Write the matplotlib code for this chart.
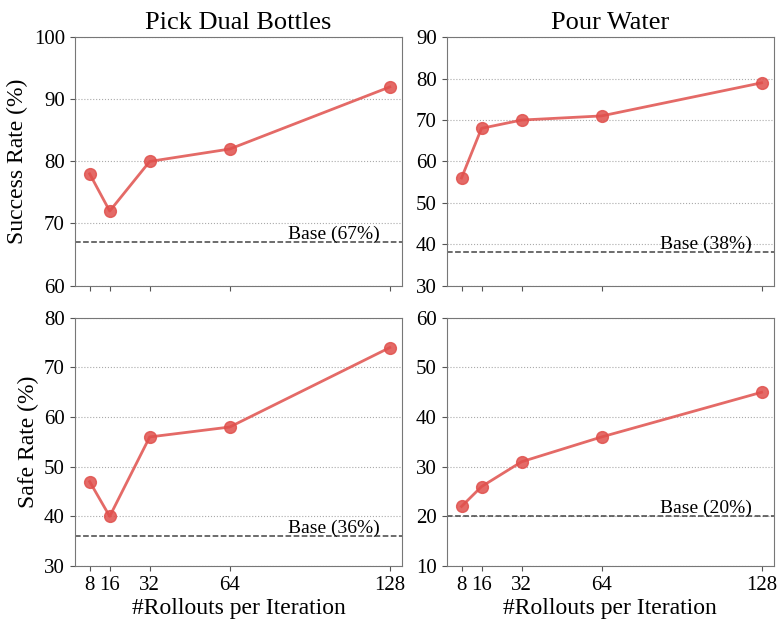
import matplotlib.pyplot as plt
import numpy as np

rollouts = [8, 16, 32, 64, 128]
tasks = ["Pick Dual Bottles", "Pour Water"]

success_pick = [78, 72, 80, 82, 92]
success_pour = [56, 68, 70, 71, 79]
safe_pick = [47, 40, 56, 58, 74]
safe_pour = [22, 26, 31, 36, 45]

base_success = [67, 38]
base_safe = [36, 20]

ylims_success = [(60, 100), (30, 90)]
ylims_safe = [(30, 80), (10, 60)]

plt.rcParams['font.family'] = ['Liberation Serif', 'DejaVu Serif']
plt.rcParams['mathtext.fontset'] = 'stix'

fig, axes = plt.subplots(2, 2, figsize=(7.78, 6.22), dpi=100)
color = '#e0504c'

rows = [
    ("Success Rate (%)", [success_pick, success_pour], base_success, ylims_success),
    ("Safe Rate (%)", [safe_pick, safe_pour], base_safe, ylims_safe),
]

for r, (ylabel, series, bases, ylims) in enumerate(rows):
    for c in range(2):
        ax = axes[r, c]
        ax.plot(rollouts, series[c], color=color, lw=2, alpha=0.85,
                marker='o', markersize=8.5, zorder=3)
        ax.axhline(bases[c], color='#444444', ls='--', lw=1.1, zorder=2)
        ax.text(124, bases[c] - 0.1, f"Base ({bases[c]}%)", ha='right', va='bottom',
                fontsize=14)
        lo, hi = ylims[c]
        ax.set_xlim(2, 133)
        ax.set_ylim(lo, hi)
        ax.set_yticks(np.arange(lo, hi + 1, 10))
        ax.set_xticks(rollouts)
        ax.set_xticklabels([str(x) for x in rollouts])
        ax.yaxis.grid(True, linestyle=':', color='#aaaaaa', lw=0.8)
        ax.set_axisbelow(True)
        ax.tick_params(labelsize=15, color='#555555')
        for s in ax.spines.values():
            s.set_color('#777777')
        if r == 0:
            ax.set_title(tasks[c], fontsize=19)
            ax.tick_params(labelbottom=False)
        else:
            ax.set_xlabel("#Rollouts per Iteration", fontsize=17, labelpad=2)
        if c == 0:
            ax.set_ylabel(ylabel, fontsize=17)

plt.subplots_adjust(left=0.096, right=0.995, top=0.94, bottom=0.09, hspace=0.13, wspace=0.135)
plt.savefig('out.png')
